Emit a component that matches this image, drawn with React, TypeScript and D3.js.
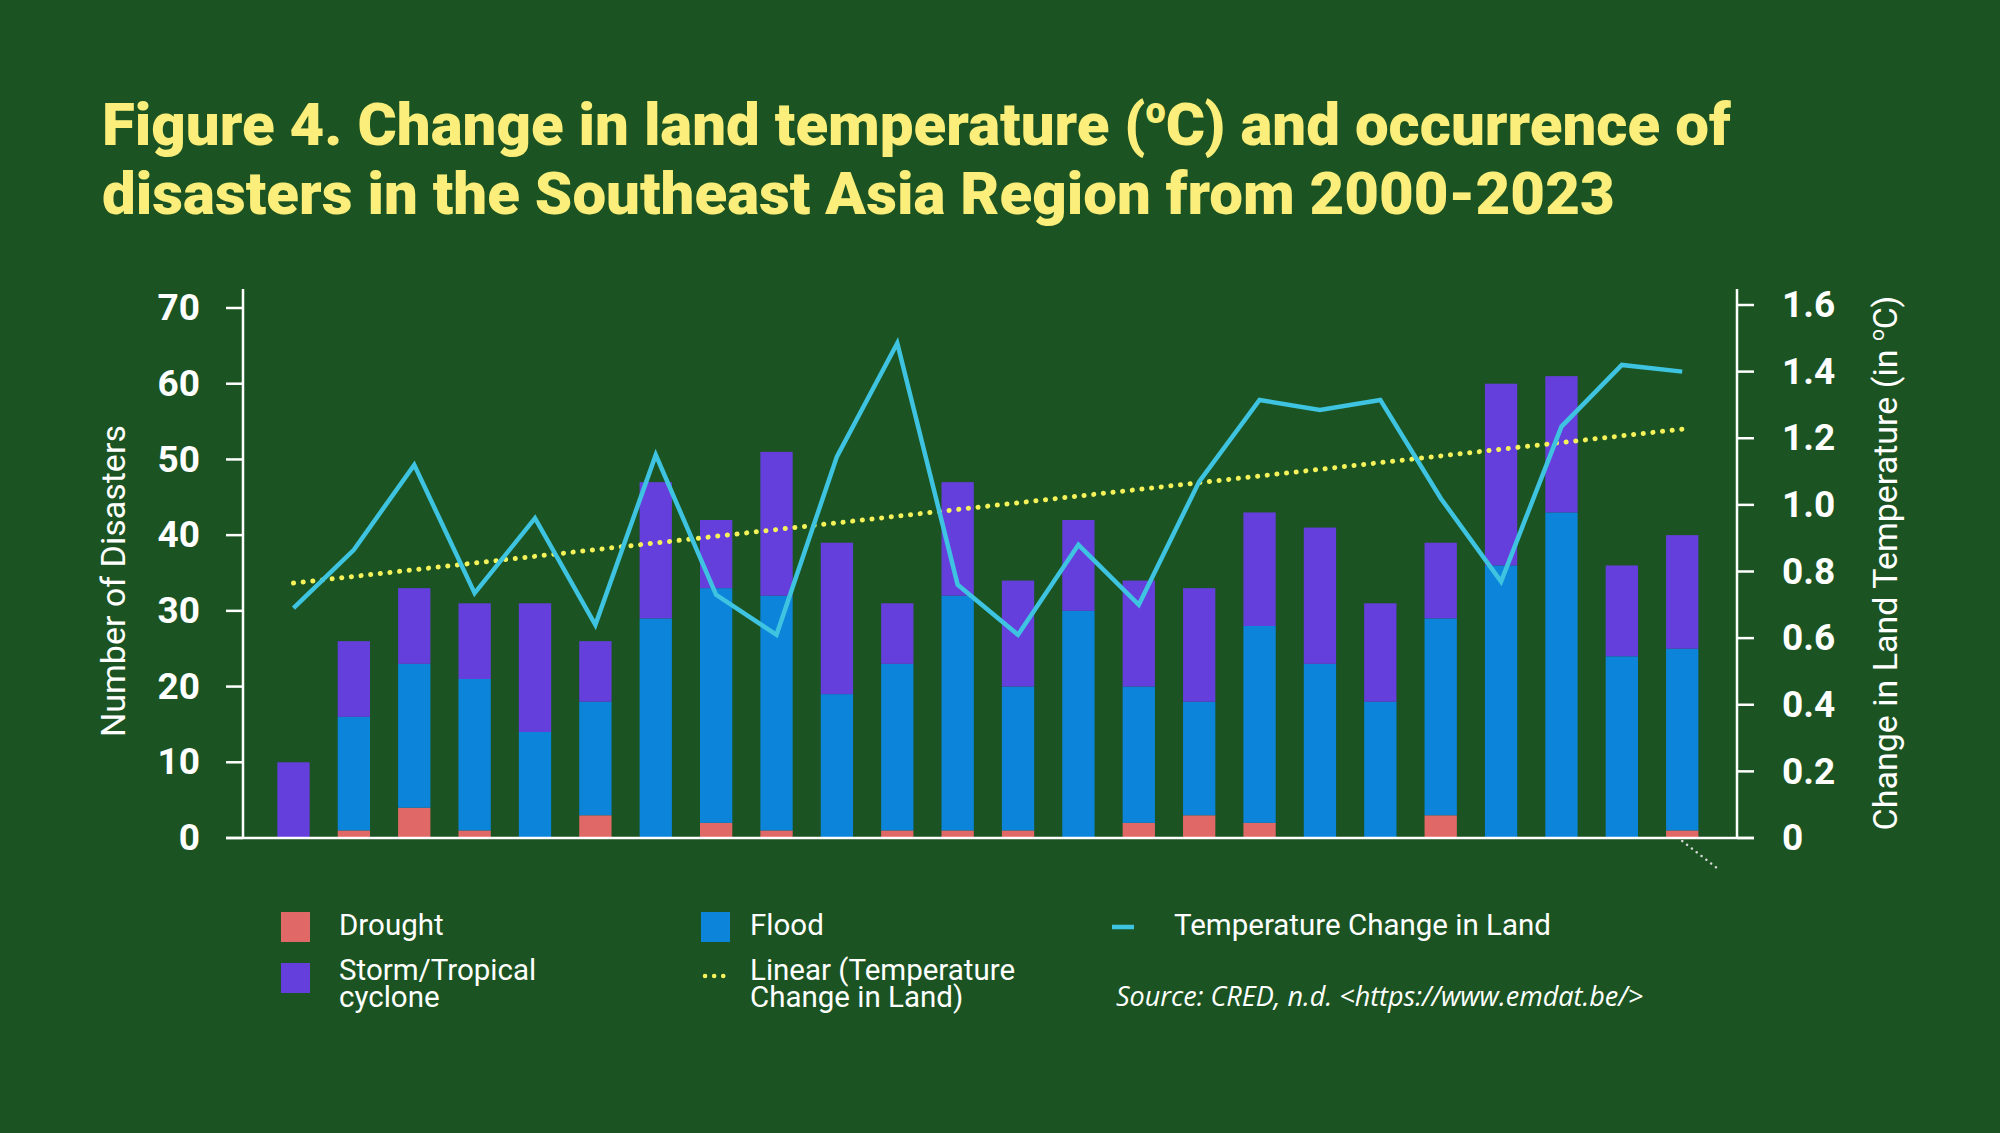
import * as d3 from "d3";

// disaster counts per year, by type
const years = [
  "2000", "2001", "2002", "2003", "2004", "2005", "2006", "2007", "2008", "2009", "2010", "2011",
  "2012", "2013", "2014", "2015", "2016", "2017", "2018", "2019", "2020", "2021", "2022", "2023",
];
const drought = [0, 1, 4, 1, 0, 3, 0, 2, 1, 0, 1, 1, 1, 0, 2, 3, 2, 0, 0, 3, 0, 0, 0, 1];
const flood = [0, 15, 19, 20, 14, 15, 29, 31, 31, 19, 22, 31, 19, 30, 18, 15, 26, 23, 18, 26, 36, 43, 24, 24];
const storm = [10, 10, 10, 10, 17, 8, 18, 9, 19, 20, 8, 15, 14, 12, 14, 15, 15, 18, 13, 10, 24, 18, 12, 15];

// land temperature change (°C)
const tempChange = [
  0.69, 0.865, 1.12, 0.735, 0.96, 0.64, 1.15, 0.73, 0.61, 1.145, 1.485, 0.76,
  0.61, 0.88, 0.7, 1.07, 1.315, 1.285, 1.315, 1.02, 0.77, 1.235, 1.42, 1.4,
];

const countTicks = [0, 10, 20, 30, 40, 50, 60, 70];
const tempTicks = [0, 0.2, 0.4, 0.6, 0.8, 1.0, 1.2, 1.4, 1.6];
const tempTickLabels = ["0", "0.2", "0.4", "0.6", "0.8", "1.0", "1.2", "1.4", "1.6"];

const keys = ["drought", "flood", "storm"] as const;
const colors: Record<string, string> = {
  drought: "#e06866",
  flood: "#0c84da",
  storm: "#643fdb",
};
const BG = "#1b5422";
const LINE = "#3ec3e0";
const TREND = "#f5f25a";
const TITLE = "#fcee7a";
const FONT = "Roboto, 'Noto Sans', sans-serif";

const W = 2000;
const H = 1133;
const axisLeft = 243;
const axisRight = 1737;
const baseY = 838;
const topY = 289;

export default function App() {
  const rows = years.map((year, i) => ({
    year,
    drought: drought[i],
    flood: flood[i],
    storm: storm[i],
  }));

  const x = d3.scaleBand<string>()
    .domain(years)
    .range([263.3, 1712.4])
    .paddingInner(0.465)
    .paddingOuter(0.2325);
  const yCount = d3.scaleLinear().domain([0, 70]).range([baseY, 308]);
  const yTemp = d3.scaleLinear().domain([0, 1.6]).range([baseY, 305]);
  const cx = (year: string) => (x(year) ?? 0) + x.bandwidth() / 2;

  const series = d3.stack<any>().keys(keys as unknown as string[])(rows);

  const tempLine = d3.line<number>()
    .x((_, i) => cx(years[i]))
    .y((d) => yTemp(d));

  // least-squares trend of the temperature series
  const n = tempChange.length;
  const meanX = (n - 1) / 2;
  const meanY = d3.mean(tempChange) ?? 0;
  const slope =
    d3.sum(tempChange, (v, i) => (i - meanX) * (v - meanY)) /
    d3.sum(tempChange, (_, i) => (i - meanX) ** 2);
  const trend = years.map((_, i) => meanY + slope * (i - meanX));

  const lastX = cx(years[years.length - 1]);

  return (
    <svg
      width={W}
      height={H}
      style={{ position: "absolute", left: 0, top: 0, display: "block" }}
      fontFamily={FONT}
    >
      <rect width={W} height={H} fill={BG} />

      {/* title */}
      <text x={102} y={145} fill={TITLE} fontSize={60} fontWeight={900}>
        Figure 4. Change in land temperature (
        <tspan fontSize={36} dy={-22}>o</tspan>
        <tspan dy={22}>C) and occurrence of</tspan>
      </text>
      <text x={102} y={214} fill={TITLE} fontSize={60} fontWeight={900}>
        disasters in the Southeast Asia Region from 2000-2023
      </text>

      {/* stacked bars */}
      {series.map((s) => (
        <g key={s.key} fill={colors[s.key]}>
          {s.map((d: any) =>
            d[1] - d[0] > 0 ? (
              <rect
                key={d.data.year}
                x={x(d.data.year)}
                y={yCount(d[1])}
                width={x.bandwidth()}
                height={yCount(d[0]) - yCount(d[1])}
              />
            ) : null
          )}
        </g>
      ))}

      {/* trend */}
      <path
        d={tempLine(trend) ?? ""}
        fill="none"
        stroke={TREND}
        strokeWidth={5}
        strokeDasharray="0.1 9.6"
        strokeLinecap="round"
      />

      {/* temperature line */}
      <path
        d={tempLine(tempChange) ?? ""}
        fill="none"
        stroke={LINE}
        strokeWidth={4.5}
        strokeLinejoin="miter"
      />

      {/* axes */}
      <g stroke="#ffffff" strokeWidth={2.5}>
        <line x1={axisLeft} x2={axisLeft} y1={topY} y2={baseY} />
        <line x1={axisRight} x2={axisRight} y1={topY} y2={baseY} />
        <line x1={226} x2={1754} y1={baseY} y2={baseY} />
        {countTicks.map((t) => (
          <line key={t} x1={226} x2={axisLeft} y1={yCount(t)} y2={yCount(t)} />
        ))}
        {tempTicks.map((t) => (
          <line key={t} x1={axisRight} x2={1754} y1={yTemp(t)} y2={yTemp(t)} />
        ))}
      </g>
      <path
        d={`M${lastX},${baseY + 3}l36,28`}
        stroke="#d9d9d9"
        strokeWidth={2.5}
        strokeDasharray="0.1 6"
        strokeLinecap="round"
        fill="none"
      />

      <g fill="#ffffff" fontSize={37} fontWeight={700}>
        {countTicks.map((t) => (
          <text key={t} x={200} y={yCount(t)} dy="0.33em" textAnchor="end">
            {t}
          </text>
        ))}
        {tempTicks.map((t, i) => (
          <text key={t} x={1782} y={yTemp(t)} dy="0.33em">
            {tempTickLabels[i]}
          </text>
        ))}
      </g>

      <g fill="#ffffff" fontSize={34}>
        <text
          transform="translate(113,581) rotate(-90)"
          textAnchor="middle"
          dy="0.35em"
        >
          Number of Disasters
        </text>
        <text
          transform="translate(1885,563) rotate(-90)"
          textAnchor="middle"
          dy="0.35em"
        >
          Change in Land Temperature (in <tspan fontSize={21} dy={-13}>o</tspan>
          <tspan dy={13}>C)</tspan>
        </text>
      </g>

      {/* legend */}
      <g fill="#ffffff" fontSize={29.5}>
        <rect x={281} y={912} width={29} height={30} fill={colors.drought} />
        <text x={339} y={935}>Drought</text>
        <rect x={281} y={963} width={29} height={30} fill={colors.storm} />
        <text x={339} y={980}>
          Storm/Tropical
          <tspan x={339} dy={27}>cyclone</tspan>
        </text>

        <rect x={701} y={912} width={29} height={30} fill={colors.flood} />
        <text x={750} y={935}>Flood</text>
        <line
          x1={705}
          x2={727}
          y1={976}
          y2={976}
          stroke={TREND}
          strokeWidth={4.5}
          strokeDasharray="0.1 9"
          strokeLinecap="round"
        />
        <text x={750} y={980}>
          Linear (Temperature
          <tspan x={750} dy={27}>Change in Land)</tspan>
        </text>

        <line x1={1112} x2={1134} y1={927} y2={927} stroke={LINE} strokeWidth={4.5} />
        <text x={1174} y={935}>Temperature Change in Land</text>

        <text
          x={1116}
          y={1006}
          fontSize={27}
          fontStyle="italic"
          fontFamily="'Open Sans', sans-serif"
        >
          {"Source: CRED, n.d. <https://www.emdat.be/>"}
        </text>
      </g>
    </svg>
  );
}
